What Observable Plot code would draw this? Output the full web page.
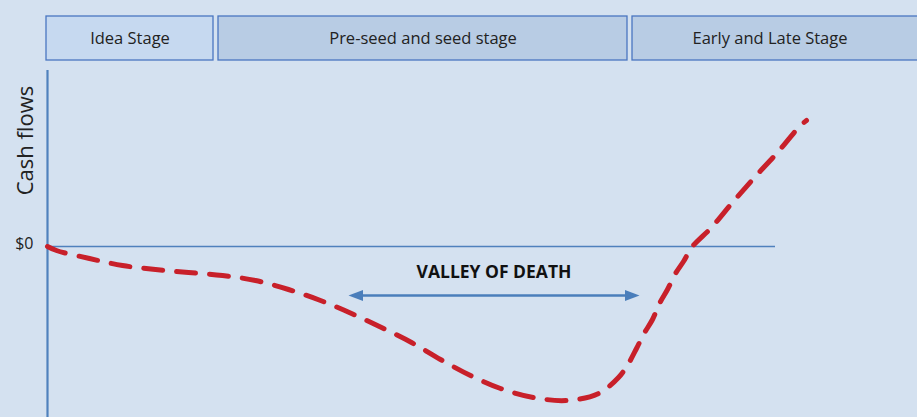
<!DOCTYPE html>
<html>
<head>
<meta charset="utf-8">
<script src="https://cdn.jsdelivr.net/npm/d3@7"></script>
<script src="https://cdn.jsdelivr.net/npm/@observablehq/plot@0.6"></script>
<style>
  html, body { margin: 0; padding: 0; background: #d4e1f0; }
  #chart { width: 917px; height: 417px; overflow: hidden; }
  #chart svg { display: block; background: transparent; }
</style>
</head>
<body>
<div id="chart"></div>
<script>
// ---- Data ----
const stageNames = ["Idea Stage", "Pre-seed and seed stage", "Early and Late Stage"];
const stageStart = [-0.1, 17.1, 58.5];
const stageEnd   = [16.6, 58.0, 88];
const stageFill  = ["#c6d9f0", "#b8cce4", "#b8cce4"];

const time = [0, 0.9, 4.2, 7.5, 10.8, 14.1, 17.5, 20.8, 24.1, 27.3, 30.4, 33.4, 36.4, 39.3, 42.3, 45.3, 48.6, 51.9, 55.1, 57.1, 58.1, 58.9, 59.6, 60.5, 61.2, 62.0, 62.8, 63.6, 64.5, 66.4, 68.5, 70.7, 73.0, 75.2, 75.9];
const cash = [0, -0.4, -1.2, -1.9, -2.3, -2.6, -2.9, -3.4, -4.3, -5.4, -6.7, -8.1, -9.6, -11.3, -12.9, -14.2, -15.1, -15.4, -14.7, -13.1, -11.7, -10.2, -8.8, -7.3, -5.7, -4.3, -2.7, -1.5, 0, 1.9, 4.4, 6.9, 9.4, 12.0, 12.6];

const zeroLineEnd = 72.8;
const valleyLabel = "VALLEY OF DEATH";
const valleyStart = 30.1, valleyEnd = 59.2, valleyLevel = -4.9, valleyLabelLevel = -2.6;
const yLabel = "Cash flows";
const yLabelLevel = 10.6, yLabelX = -2.2;
const zeroTick = [0];
const zeroTickLabel = "$0";

// ---- Build ----
const font = "'Open Sans', 'Noto Sans', sans-serif";
const xDomain = [0, 87];
const stages = stageNames.map((name, i) => ({
  name, start: stageStart[i], end: stageEnd[i], fill: stageFill[i],
  mid: (stageStart[i] + Math.min(stageEnd[i], 86)) / 2
}));
const curve = time.map((t, i) => ({t, v: cash[i]}));

const header = Plot.plot({
  width: 917, height: 62,
  marginLeft: 47, marginRight: 0, marginTop: 16, marginBottom: 2,
  style: {background: "transparent", fontFamily: font},
  x: {domain: xDomain, axis: null},
  marks: [
    Plot.rect(stages, {x1: "start", x2: "end", fill: "fill", stroke: "#4a76c0", strokeWidth: 1.3}),
    Plot.text(stages, {x: "mid", text: "name", frameAnchor: "middle", fontSize: 16.5, fill: "#222"})
  ]
});

const arrowHead = {
  draw(ctx, size) {
    const r = Math.sqrt(size / Math.PI);
    ctx.moveTo(0, 0);
    ctx.lineTo(-1.45 * r, -0.55 * r);
    ctx.lineTo(-1.45 * r, 0.55 * r);
    ctx.closePath();
  }
};

const main = Plot.plot({
  width: 917, height: 355,
  marginLeft: 47, marginRight: 0, marginTop: 8, marginBottom: 0,
  style: {background: "transparent", fontFamily: font, overflow: "visible"},
  x: {domain: xDomain, axis: null},
  y: {domain: [-17.1, 17.6], axis: null},
  marks: [
    Plot.text(zeroTick, {x: 0, y: d => d, dx: -14, dy: -3, text: () => zeroTickLabel, textAnchor: "end",
      fontSize: 16, fill: "#222"}),
    Plot.ruleY([0], {x1: 0, x2: zeroLineEnd, stroke: "#4f81bd", strokeWidth: 1.5}),
    Plot.ruleX([0], {stroke: "#4f81bd", strokeWidth: 2.2}),
    Plot.text([yLabel], {x: yLabelX, y: yLabelLevel, text: d => d, rotate: -90, fontSize: 22, fill: "#222"}),
    Plot.ruleY([valleyLevel], {x1: valleyStart + 1, x2: valleyEnd - 1, stroke: "#4a7ebb", strokeWidth: 2.5}),
    Plot.dot([valleyEnd], {x: d => d, y: valleyLevel, symbol: arrowHead, r: 10, fill: "#4a7ebb", stroke: "none"}),
    Plot.dot([valleyStart], {x: d => d, y: valleyLevel, symbol: arrowHead, r: 10, rotate: 180, fill: "#4a7ebb", stroke: "none"}),
    Plot.text([valleyLabel], {x: (valleyStart + valleyEnd) / 2, y: valleyLabelLevel, text: d => d,
      fontSize: 17.5, fontWeight: "bold", fill: "#111"}),
    Plot.line(curve, {x: "t", y: "v", curve: "catmull-rom", stroke: "#c8202a", strokeWidth: 5,
      strokeDasharray: "19,14"})
  ]
});

const el = document.getElementById("chart");
el.append(header, main);
</script>
</body>
</html>
